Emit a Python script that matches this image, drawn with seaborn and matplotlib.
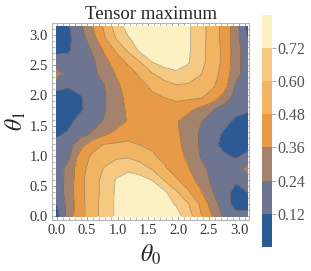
import numpy as np
import matplotlib
matplotlib.use("Agg")
import matplotlib.pyplot as plt
from matplotlib.colors import ListedColormap, BoundaryNorm
from matplotlib.ticker import MultipleLocator
import seaborn as sns

sns.set_style("ticks")
plt.rcParams['font.family'] = ['Liberation Serif', 'DejaVu Serif']
plt.rcParams['mathtext.fontset'] = 'stix'

# 17 x 17 grid on [0, pi]; rows go with theta1 (bottom to top)
theta0 = np.linspace(0, np.pi, 17)
theta1 = np.linspace(0, np.pi, 17)

# values, one row per theta1 step
r00 = [0.07, 0.30, 0.44, 0.55, 0.65, 0.74, 0.78, 0.80, 0.80, 0.78, 0.77, 0.66, 0.50, 0.36, 0.22, 0.16, 0.15]
r01 = [0.12, 0.29, 0.44, 0.55, 0.65, 0.74, 0.78, 0.80, 0.80, 0.77, 0.71, 0.61, 0.47, 0.31, 0.18, 0.08, 0.09]
r02 = [0.16, 0.30, 0.45, 0.55, 0.64, 0.74, 0.78, 0.80, 0.79, 0.75, 0.62, 0.50, 0.38, 0.25, 0.16, 0.09, 0.12]
r03 = [0.17, 0.29, 0.45, 0.55, 0.64, 0.73, 0.77, 0.77, 0.72, 0.60, 0.50, 0.42, 0.32, 0.22, 0.17, 0.13, 0.18]
r04 = [0.18, 0.28, 0.44, 0.53, 0.61, 0.68, 0.70, 0.66, 0.59, 0.50, 0.43, 0.37, 0.28, 0.21, 0.17, 0.18, 0.29]
r05 = [0.17, 0.22, 0.42, 0.50, 0.55, 0.58, 0.59, 0.55, 0.50, 0.45, 0.40, 0.34, 0.24, 0.19, 0.14, 0.11, 0.15]
r06 = [0.16, 0.20, 0.31, 0.44, 0.49, 0.50, 0.50, 0.48, 0.46, 0.43, 0.39, 0.32, 0.23, 0.15, 0.09, 0.07, 0.08]
r07 = [0.10, 0.13, 0.19, 0.25, 0.33, 0.39, 0.44, 0.46, 0.45, 0.43, 0.38, 0.31, 0.23, 0.16, 0.11, 0.07, 0.07]
r08 = [0.06, 0.10, 0.15, 0.20, 0.25, 0.31, 0.37, 0.41, 0.42, 0.41, 0.37, 0.31, 0.25, 0.20, 0.15, 0.10, 0.06]
r09 = [0.07, 0.07, 0.11, 0.16, 0.23, 0.31, 0.38, 0.43, 0.45, 0.46, 0.44, 0.39, 0.33, 0.25, 0.19, 0.15, 0.14]
r10 = [0.08, 0.08, 0.11, 0.17, 0.23, 0.32, 0.39, 0.43, 0.46, 0.48, 0.50, 0.50, 0.49, 0.44, 0.31, 0.20, 0.16]
r11 = [0.15, 0.13, 0.15, 0.19, 0.24, 0.34, 0.40, 0.45, 0.50, 0.55, 0.59, 0.58, 0.55, 0.50, 0.42, 0.22, 0.17]
r12 = [0.29, 0.18, 0.17, 0.21, 0.28, 0.37, 0.43, 0.50, 0.59, 0.66, 0.70, 0.68, 0.61, 0.53, 0.44, 0.28, 0.18]
r13 = [0.18, 0.15, 0.17, 0.22, 0.32, 0.42, 0.50, 0.60, 0.72, 0.77, 0.77, 0.73, 0.64, 0.55, 0.45, 0.29, 0.17]
r14 = [0.09, 0.11, 0.18, 0.25, 0.38, 0.50, 0.62, 0.75, 0.79, 0.80, 0.78, 0.74, 0.64, 0.55, 0.45, 0.30, 0.16]
r15 = [0.06, 0.10, 0.19, 0.31, 0.47, 0.61, 0.71, 0.77, 0.80, 0.80, 0.78, 0.74, 0.65, 0.55, 0.44, 0.29, 0.12]
r16 = [0.07, 0.11, 0.22, 0.36, 0.50, 0.66, 0.77, 0.78, 0.80, 0.80, 0.78, 0.74, 0.65, 0.55, 0.44, 0.30, 0.07]

levels = [0.0, 0.12, 0.24, 0.36, 0.48, 0.60, 0.72, 0.84]
cbar_ticks = [0.12, 0.24, 0.36, 0.48, 0.60, 0.72]
band_colors = ['#2c5a94', '#6e7591', '#a3836d', '#e79b48', '#f0b463',
               '#f6c983', '#fdf0c2']

Z = np.array([r00, r01, r02, r03, r04, r05, r06, r07, r08,
              r09, r10, r11, r12, r13, r14, r15, r16])

cmap = ListedColormap(band_colors)
norm = BoundaryNorm(levels, cmap.N)

fig = plt.figure(figsize=(3.11, 2.71), dpi=100)
ax = fig.add_axes([0.167, 0.188, 0.634, 0.727])
cax = fig.add_axes([0.843, 0.089, 0.032, 0.856])

cf = ax.contourf(theta0, theta1, Z, levels=levels, cmap=cmap, norm=norm)
ax.contour(theta0, theta1, Z, levels=levels[1:-1], colors='#5a4a3a',
           linewidths=0.5, alpha=0.55)

ax.set_xlim(-0.08, 3.165)
ax.set_ylim(-0.066, 3.2)
ax.xaxis.set_major_locator(MultipleLocator(0.5))
ax.yaxis.set_major_locator(MultipleLocator(0.5))
ax.xaxis.set_minor_locator(MultipleLocator(0.1))
ax.yaxis.set_minor_locator(MultipleLocator(0.1))
ax.xaxis.set_major_formatter(lambda v, p: f"{v:.1f}")
ax.yaxis.set_major_formatter(lambda v, p: f"{v:.1f}")
ax.tick_params(which='both', direction='in', top=True, right=True,
               color='#999999', labelsize=10.5, labelcolor='#333333', pad=3)
ax.tick_params(which='major', length=4, width=0.6)
ax.tick_params(which='minor', length=2, width=0.5)
for s in ax.spines.values():
    s.set_color('#b5b5b5')
    s.set_linewidth(0.8)

ax.set_title('Tensor maximum', fontsize=13.5, pad=1)
ax.set_xlabel(r'$\theta_0$', fontsize=17, labelpad=4)
ax.set_ylabel(r'$\theta_1$', fontsize=17, labelpad=1)

cb = fig.colorbar(cf, cax=cax, ticks=cbar_ticks)
cb.outline.set_visible(False)
cb.ax.minorticks_off()
cb.ax.yaxis.set_major_formatter(lambda v, p: f"{v:.2f}")
cb.ax.tick_params(length=3, width=0.6, color='#999999', labelsize=11.5,
                  labelcolor='#555555', pad=1)

fig.savefig('out.png', dpi=100)
